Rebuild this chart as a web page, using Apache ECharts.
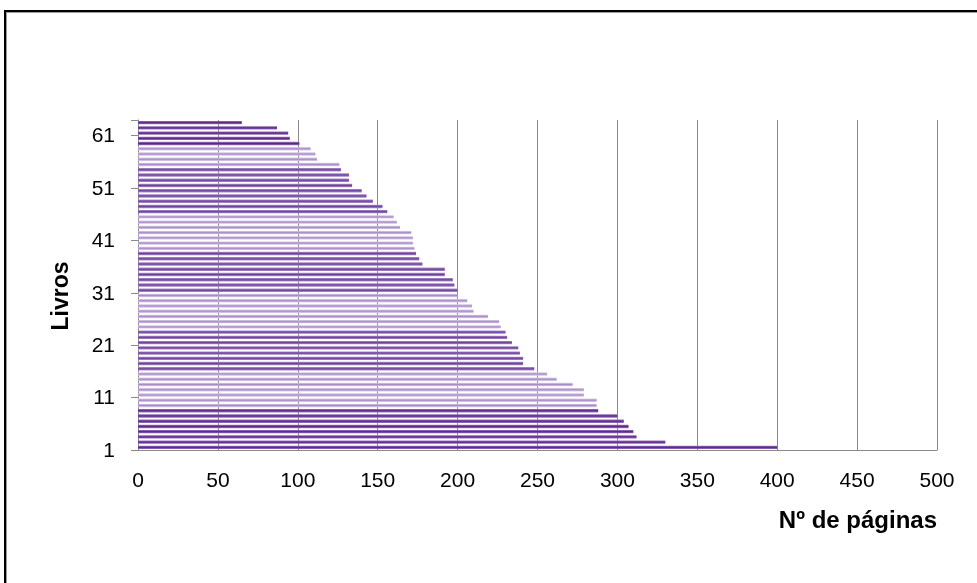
<!DOCTYPE html>
<html>
<head>
<meta charset="utf-8">
<script src="https://cdn.jsdelivr.net/npm/echarts@6/dist/echarts.min.js"></script>
<style>
  html, body { margin: 0; padding: 0; background: #fff; }
  #frame { position: absolute; left: 4px; top: 10px; width: 990px; height: 600px;
           border: 2px solid #000; box-shadow: inset 1px 1px 0 #9a9a9a; }
  #chart { position: absolute; left: 0; top: 0; width: 977px; height: 583px; }
</style>
</head>
<body>
<div id="frame"></div>
<div id="chart"></div>
<script>
// Books 1..63 and their page counts
const livros = Array.from({ length: 63 }, (_, i) => String(i + 1));
const paginas = [
  400, 330, 312, 310, 307, 304, 300, 288, 287, 287,
  279, 279, 272, 262, 256, 248, 241, 241, 239, 238,
  234, 231, 230, 227, 226, 219, 210, 209, 206, 200,
  200, 198, 197, 192, 192, 178, 176, 174, 173, 172,
  172, 171, 164, 162, 160, 156, 153, 147, 143, 140,
  134, 132, 132, 127, 126, 112, 111, 108, 101, 95,
  94, 87, 65
];
const xTicks = [0, 50, 100, 150, 200, 250, 300, 350, 400, 450, 500];

// Shade group of each bar (0 dark, 1 medium, 2 light)
const shadeGroup = [
  0,0,0,0,0,0,0,0, 2,2,2,2,2,2,2, 1,1,1,1,1,1,1,1,
  2,2,2,2,2,2,2, 1,1,1,1,1,1,1,1, 2,2,2,2,2,2,2,
  1,1,1,1,1,1,1,1,1, 2,2,2,2, 0,0,0,0,0
];
const shades = [
  { core: '#5b2389', edge: '#9a78c0' },
  { core: '#6e3f9b', edge: '#ab91cb' },
  { core: '#a78bc7', edge: '#dcd0ea' }
];

function barColor(i) {
  const s = shades[shadeGroup[i]];
  return new echarts.graphic.LinearGradient(0, 0, 0, 1, [
    { offset: 0, color: s.edge },
    { offset: 0.5, color: s.core },
    { offset: 1, color: s.edge }
  ]);
}

const FONT = '"Liberation Sans", Arial, sans-serif';

const chart = echarts.init(document.getElementById('chart'), null, { renderer: 'canvas' });
chart.setOption({
  animation: false,
  backgroundColor: 'transparent',
  textStyle: { fontFamily: FONT },
  grid: { left: 138, right: 40, top: 120, bottom: 133, containLabel: false },
  xAxis: {
    type: 'value',
    min: xTicks[0],
    max: xTicks[xTicks.length - 1],
    interval: 50,
    axisLine: { show: true, lineStyle: { color: '#8a8a8a', width: 1 } },
    axisTick: { show: false },
    splitLine: { show: true, lineStyle: { color: '#8a8a8a', width: 1 } },
    axisLabel: { color: '#000', fontFamily: FONT, fontSize: 21, margin: 21 }
  },
  yAxis: {
    type: 'category',
    data: livros,
    axisLine: { show: true, lineStyle: { color: '#8a8a8a', width: 1 } },
    axisTick: { show: true, interval: 9, length: 7, lineStyle: { color: '#8a8a8a' } },
    axisLabel: {
      interval: 9, margin: 23,
      formatter: '{n|{value}}',
      rich: { n: { color: '#000', fontFamily: FONT, fontSize: 21, padding: [7, 0, 0, 0] } }
    },
    splitLine: { show: false }
  },
  series: [{
    type: 'bar',
    data: paginas.map((v, i) => ({ value: v, itemStyle: { color: barColor(i) } })),
    barWidth: '65%'
  }],
  graphic: [
    {
      type: 'text',
      x: 62,
      y: 296,
      rotation: Math.PI / 2,
      style: {
        text: 'Livros', fill: '#000', align: 'center', verticalAlign: 'middle',
        font: 'bold 23px "Liberation Sans", Arial, sans-serif'
      }
    },
    {
      type: 'text',
      right: 40,
      top: 509,
      style: { text: 'Nº de páginas', fill: '#000', font: 'bold 24px "Liberation Sans", Arial, sans-serif' }
    }
  ]
});
</script>
</body>
</html>
